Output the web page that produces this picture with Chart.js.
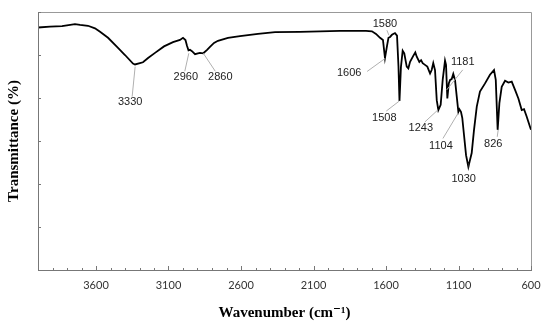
<!DOCTYPE html>
<html>
<head>
<meta charset="utf-8">
<script src="https://cdn.jsdelivr.net/npm/chart.js@4"></script>
<style>
	html, body { margin:0; padding:0; background:#fff; }
	#wrap { width:550px; height:326px; }
</style>
</head>
<body>
<div id="wrap"><canvas id="ftir" width="550" height="326"></canvas></div>
<script>
// spectrum
var wavenumbers = [4000,3917,3834,3745,3710,3655,3607,3572,3517,3455,3400,3345,3331,3297,3276,3241,3193,3131,3069,3021,
	3000,2983,2972,2962,2952,2938,2917,2897,2883,2860,2834,2814,2786,2759,2690,2607,2483,2365,2193,2055,
	1917,1738,1697,1669,1641,1621,1607,1593,1583,1572,1559,1538,1524,1514,1507,1497,1485,1474,1457,1446,
	1434,1412,1398,1388,1370,1358,1347,1331,1315,1296,1285,1274,1262,1250,1239,1223,1209,1193,1186,1177,
	1167,1158,1147,1136,1124,1112,1101,1094,1083,1074,1062,1048,1032,1024,1009,993,974,952,917,883,
	855,843,830,818,802,779,756,733,710,687,664,648,630,607,600];
var transmittance = [56.4,56.6,56.7,57.2,57.0,56.8,56.2,55.4,54.0,51.9,50.0,48.0,47.8,48.1,48.3,49.3,50.5,52.0,53.0,53.5,
	54.0,53.5,52.1,51.1,51.2,50.9,50.2,50.4,50.5,50.4,51.2,51.9,52.8,53.3,54.0,54.4,54.9,55.3,55.4,55.5,
	55.6,55.6,55.5,54.9,54.0,53.5,49.3,52.1,54.0,54.2,54.7,55.1,54.5,47.4,39.3,47.2,51.0,50.4,47.3,46.9,
	48.4,49.8,50.6,49.6,48.4,48.8,48.1,47.7,47.3,45.7,46.5,48.1,46.5,39.5,37.2,38.4,44.2,48.7,47.7,39.9,
	43.4,44.2,44.4,45.6,44.2,40.3,36.8,37.4,36.8,35.4,31.4,26.7,24.0,25.1,27.2,32.6,38.0,41.5,43.4,45.4,
	46.5,44.2,32.6,38.8,42.6,44.0,43.6,43.8,41.9,39.9,37.2,37.4,35.7,33.3,32.6];

var peakLabels = ["3330","2960","2860","1580","1606","1508","1243","1181","1104","1030","826"];
var peakWavenumbers = [3330,2960,2860,1580,1606,1508,1243,1181,1104,1030,826];
var xTickLabels = [3600,3100,2600,2100,1600,1100,600];

// where each leader starts (T value) and pixel offsets of leader end / text
var peakLayout = [
	{at:47.3, end:[-3,30], txt:[-5,35]},
	{at:50.4, end:[-4,18], txt:[-3,24]},
	{at:50.4, end:[12,18], txt:[17,24]},
	{at:54.6, end:[-2,-5], txt:[-4,-11]},
	{at:49.2, end:[-18,13], txt:[-36,15]},
	{at:39.3, end:[-13,10], txt:[-15,17]},
	{at:37.2, end:[-13,12], txt:[-17,18]},
	{at:41.9, end:[16,-20], txt:[16,-28]},
	{at:36.4, end:[-15,25], txt:[-17,32]},
	{at:24.9, end:[0,5], txt:[-5,16]},
	{at:32.6, end:[-1,7], txt:[-5,14]}
];

var points = wavenumbers.map(function(w, i){ return {x:w, y:transmittance[i]}; });

var framePlugin = {
	id:'frame',
	afterDraw:function(chart){
		var ctx = chart.ctx, a = chart.chartArea;
		var xs = chart.scales.x, ys = chart.scales.y;
		ctx.save();
		ctx.lineWidth = 1;
		ctx.strokeStyle = '#999';
		ctx.beginPath();
		ctx.moveTo(a.left, a.top + .5); ctx.lineTo(a.right + .5, a.top + .5); ctx.lineTo(a.right + .5, a.bottom);
		ctx.stroke();
		ctx.strokeStyle = '#777';
		ctx.beginPath();
		ctx.moveTo(a.left + .5, a.top); ctx.lineTo(a.left + .5, a.bottom + .5); ctx.lineTo(a.right + 1, a.bottom + .5);
		ctx.stroke();
		// inward ticks
		xs.ticks.forEach(function(t){
			var px = Math.round(xs.getPixelForValue(t.value)) + .5;
			var len = xTickLabels.indexOf(t.value) >= 0 ? 4 : 2;
			ctx.beginPath(); ctx.moveTo(px, a.bottom); ctx.lineTo(px, a.bottom - len); ctx.stroke();
		});
		ys.ticks.forEach(function(t){
			var py = Math.round(ys.getPixelForValue(t.value)) + .5;
			ctx.beginPath(); ctx.moveTo(a.left, py); ctx.lineTo(a.left + 3, py); ctx.stroke();
		});
		// peak annotations
		ctx.font = '11px "Liberation Sans", Arial, sans-serif';
		ctx.textAlign = 'center';
		ctx.textBaseline = 'middle';
		peakLabels.forEach(function(lab, i){
			var l = peakLayout[i];
			var x0 = xs.getPixelForValue(peakWavenumbers[i]);
			var y0 = ys.getPixelForValue(l.at);
			ctx.strokeStyle = lab == '1030' ? '#222' : '#b0b0b0';
			ctx.beginPath(); ctx.moveTo(x0, y0); ctx.lineTo(x0 + l.end[0], y0 + l.end[1]); ctx.stroke();
			ctx.fillStyle = '#222';
			ctx.fillText(lab, x0 + l.txt[0], y0 + l.txt[1]);
		});
		ctx.restore();
	}
};

var ctx = document.getElementById('ftir').getContext('2d');
var chart = new Chart(ctx, {
	type:'line',
	data:{
		datasets:[{
			data:points,
			borderColor:'#000',
			borderWidth:1.8,
			pointRadius:0,
			tension:0,
			fill:false
		}]
	},
	options:{
		responsive:false,
		animation:false,
		events:[],
		layout:{ padding:{ top:12, right:19, left:0, bottom:0 } },
		plugins:{ legend:{ display:false }, tooltip:{ enabled:false } },
		scales:{
			x:{
				type:'linear',
				reverse:true,
				min:600,
				max:4000,
				grid:{ display:false, drawTicks:false },
				border:{ display:false },
				ticks:{
					stepSize:100,
					autoSkip:false,
					maxRotation:0,
					padding:9,
					color:'#333',
					font:{ family:'Lato, "Open Sans", sans-serif', size:11 },
					callback:function(v){ return xTickLabels.indexOf(v) >= 0 ? String(v) : ''; }
				},
				title:{
					display:true,
					text:'Wavenumber (cm\u207B\u00B9)',
					color:'#000',
					padding:{ top:0, bottom:4 },
					font:{ family:'"Liberation Serif", "DejaVu Serif", serif', size:15, weight:'bold' }
				},
				afterFit:function(s){ s.height = 56; }
			},
			y:{
				min:0,
				max:60,
				grid:{ display:false, drawTicks:false },
				border:{ display:false },
				ticks:{ stepSize:10, display:false },
				title:{
					display:true,
					text:'Transmittance (%)',
					color:'#000',
					padding:{ top:5, bottom:0 },
					font:{ family:'"Liberation Serif", "DejaVu Serif", serif', size:15, weight:'bold' }
				},
				afterFit:function(s){ s.width = 38; }
			}
		}
	},
	plugins:[framePlugin]
});
</script>
</body>
</html>
